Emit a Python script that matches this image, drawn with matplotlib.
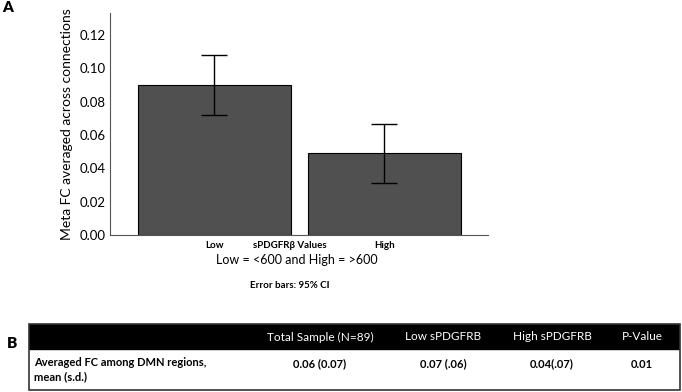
import numpy as np
import matplotlib
matplotlib.use('Agg')
import matplotlib.pyplot as plt
from matplotlib.patches import Rectangle

plt.rcParams['font.family'] = ['Lato', 'DejaVu Sans']

# bar chart data
categories = ['Low', 'High']
means = [0.090, 0.049]
ci_low = [0.072, 0.031]
ci_high = [0.108, 0.0665]

# table data
col_headers = ['', 'Total Sample (N=89)', 'Low sPDGFRB', 'High sPDGFRB', 'P-Value']
row_label = 'Averaged FC among DMN regions,\nmean (s.d.)'
row_values = ['0.06 (0.07)', '0.07 (.06)', '0.04(.07)', '0.01']

W, H = 682, 392
fig = plt.figure(figsize=(W / 100, H / 100), dpi=100)

# --- panel A
ax = fig.add_axes([110 / W, (H - 235) / H, (488 - 110) / W, (235 - 13) / H])
x = np.arange(len(categories))
m = np.array(means)
yerr = np.vstack([m - np.array(ci_low), np.array(ci_high) - m])
ax.bar(x, m, width=0.9, color='#505050', edgecolor='black', linewidth=0.8)
ax.errorbar(x, m, yerr=yerr, fmt='none', ecolor='black', elinewidth=1.0,
            capsize=9.5, capthick=1.0)
ax.set_xlim(-0.615, 1.61)
ax.set_ylim(0, 0.1333)
ax.set_yticks(np.arange(0, 0.121, 0.02))
ax.set_yticklabels(['%.2f' % v for v in np.arange(0, 0.121, 0.02)], fontsize=9.5)
ax.set_xticks(x)
ax.set_xticklabels(categories, fontsize=7, fontweight='bold')
ax.tick_params(length=0, pad=4)
ax.tick_params(axis='y', pad=3)
for s in ['top', 'right']:
    ax.spines[s].set_visible(False)
for s in ['left', 'bottom']:
    ax.spines[s].set_color('#555555')
    ax.spines[s].set_linewidth(0.8)
ax.set_ylabel('Meta FC averaged across connections', fontsize=10, labelpad=5)

fig.text(290 / W, 1 - 245 / H, 'sPDGFRβ Values', fontsize=7, fontweight='bold',
         ha='center', va='center')
fig.text(297 / W, 1 - 260 / H, 'Low = <600 and High = >600', fontsize=9,
         ha='center', va='center')
fig.text(290 / W, 1 - 285 / H, 'Error bars: 95% CI', fontsize=7,
         fontweight='bold', ha='center', va='center')
fig.text(8 / W, 1 - 8 / H, 'A', fontsize=11, fontweight='heavy', ha='center', va='center')
fig.text(12 / W, 1 - 344 / H, 'B', fontsize=11, fontweight='heavy', ha='center', va='center')

# --- panel B (table)
tx0, tx1, ty0, ty1 = 29, 680, 324, 390
tab = fig.add_axes([tx0 / W, (H - ty1) / H, (tx1 - tx0) / W, (ty1 - ty0) / H])
tab.set_xlim(0, tx1 - tx0)
tab.set_ylim(ty1 - ty0, 0)
tab.axis('off')
tab.add_patch(Rectangle((0, 0), tx1 - tx0, 25, facecolor='black', edgecolor='black'))
tab.add_patch(Rectangle((0, 0), tx1 - tx0, ty1 - ty0, facecolor='none',
                        edgecolor='#333333', linewidth=1.2, clip_on=False))
col_x = [5, 291, 414, 523, 613]
for cx, h in zip(col_x[1:], col_headers[1:]):
    tab.text(cx, 13, h, color='white', fontsize=8.5, ha='center', va='center')
tab.text(col_x[0], 33, row_label, fontsize=8, fontweight='bold', ha='left',
         va='top', linespacing=1.4)
for cx, v in zip(col_x[1:], row_values):
    tab.text(cx, 40, v, fontsize=8, fontweight='bold', ha='center', va='center')

fig.savefig('out.png', dpi=100)
